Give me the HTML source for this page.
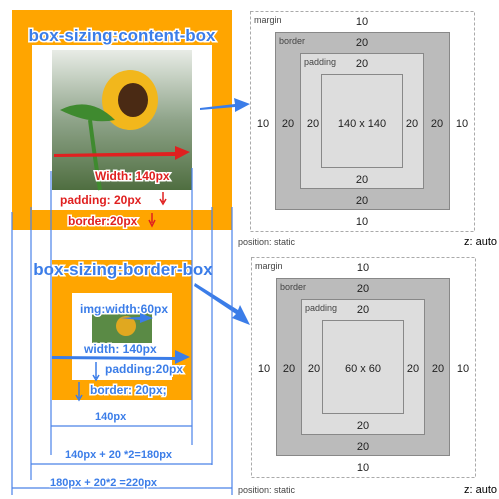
<!DOCTYPE html>
<html><head><style>
body{margin:0;background:#fff;width:499px;height:499px;overflow:hidden}
svg{display:block}
.t{font-family:"Liberation Sans",sans-serif}
.bl{font-family:"Liberation Sans",sans-serif;font-weight:bold;fill:#3b7de8;stroke:#fff;stroke-width:3;paint-order:stroke}
.rd{font-family:"Liberation Sans",sans-serif;font-weight:bold;fill:#e02020;stroke:#fff;stroke-width:3;paint-order:stroke}
</style></head><body>
<svg width="499" height="499" viewBox="0 0 499 499">
<defs>
<linearGradient id="img" x1="0" y1="0" x2="0" y2="1"><stop offset="0" stop-color="#e8ece6"/><stop offset="0.5" stop-color="#8fa48a"/><stop offset="1" stop-color="#4f6e40"/></linearGradient>
</defs>
<!-- top left -->
<rect x="12" y="10" width="220" height="220" fill="#ffa500"/>
<rect x="32" y="45" width="180" height="165" fill="#fff"/>
<rect x="52" y="50" width="140" height="140" fill="url(#img)"/>
<ellipse cx="130" cy="100" rx="28" ry="30" fill="#f2b71c"/>
<ellipse cx="133" cy="100" rx="15" ry="17" fill="#4a2a14"/>
<path d="M60 110 Q90 95 115 120 Q90 125 60 110Z" fill="#3f8a2f"/>
<path d="M90 120 Q95 160 100 190" stroke="#3f8a2f" stroke-width="4" fill="none"/>
<text x="122" y="41" class="bl" font-size="17" text-anchor="middle">box-sizing:content-box</text>
<path d="M54 154 L175 152 L175 146 L190 152 L175 160 L175 156 L54 157Z" fill="#e02020"/>
<text x="95" y="180" class="rd" font-size="12">Width: 140px</text>
<text x="60" y="204" class="rd" font-size="12">padding: 20px</text>
<text x="68" y="225" class="rd" font-size="12">border:20px</text>
<path d="M163 192 V202 M160 199 L163 204 L166 199" stroke="#e02020" stroke-width="1.5" fill="none"/>
<path d="M152 213 V223 M149 220 L152 226 L155 220" stroke="#e02020" stroke-width="1.5" fill="none"/>
<path d="M200 108 L235 104 L234 98 L250 104 L235 112 L235 107 L200 110Z" fill="#3b7de8"/>
<!-- bottom left -->
<rect x="52" y="260" width="140" height="140" fill="#ffa500"/>
<rect x="72" y="293" width="100" height="87" fill="#fff"/>
<rect x="92" y="313" width="60" height="30" fill="#5a8a45"/>
<ellipse cx="126" cy="326" rx="10" ry="10" fill="#e0a820"/>
<text x="123" y="275" class="bl" font-size="17" text-anchor="middle">box-sizing:border-box</text>
<text x="80" y="313" class="bl" font-size="12">img:width:60px</text>
<text x="84" y="353" class="bl" font-size="12">width: 140px</text>
<text x="105" y="373" class="bl" font-size="12">padding:20px</text>
<text x="90" y="394" class="bl" font-size="12">border: 20px;</text>
<path d="M52 356 L175 357 L175 350 L190 357 L175 364 L175 360 L52 359Z" fill="#3b7de8"/>
<path d="M120 318 L140 317 L140 313 L153 318 L140 323 L140 320 Z" fill="#3b7de8"/>
<path d="M96 362 V378 M93 375 L96 380 L99 375" stroke="#3b7de8" stroke-width="1.5" fill="none"/>
<path d="M79 382 V398 M76 395 L79 400 L82 395" stroke="#3b7de8" stroke-width="1.5" fill="none"/>
<path d="M195 283 L238 310 L240 305 L250 325 L232 318 L236 314 L194 286Z" fill="#3b7de8"/>
<!-- blue measurement lines -->
<g stroke="#4a82e8" stroke-width="1.2" fill="none">
<path d="M12 212 V495 M31 207 V480 M51 171 V455 M192 168 V445 M212 207 V465 M232 207 V495"/>
<path d="M51 426 H192 M31 464 H212 M12 488 H232"/>
</g>
<text x="95" y="420" class="bl" font-size="11">140px</text>
<text x="65" y="458" class="bl" font-size="11">140px + 20 *2=180px</text>
<text x="50" y="486" class="bl" font-size="11">180px + 20*2 =220px</text>
<!-- right diagrams -->
<g class="t" font-size="11" text-anchor="middle" fill="#222">
<rect x="250.5" y="11.5" width="224" height="220" fill="#fff" stroke="#aaa" stroke-dasharray="3,2"/>
<rect x="275.5" y="32.5" width="174" height="177" fill="#bbb" stroke="#888"/>
<rect x="300.5" y="53.5" width="123" height="135" fill="#ddd" stroke="#888"/>
<rect x="321.5" y="74.5" width="81" height="93" fill="#ddd" stroke="#888"/>
<text x="362" y="25">10</text><text x="362" y="46">20</text><text x="362" y="67">20</text>
<text x="362" y="127">140 x 140</text>
<text x="362" y="183">20</text><text x="362" y="204">20</text><text x="362" y="225">10</text>
<text x="263" y="127">10</text><text x="288" y="127">20</text><text x="313" y="127">20</text>
<text x="412" y="127">20</text><text x="437" y="127">20</text><text x="462" y="127">10</text>
<g text-anchor="start" font-size="9" fill="#444"><text x="254" y="23">margin</text><text x="279" y="44">border</text><text x="304" y="65">padding</text><text x="238" y="245">position: static</text></g>
<text x="497" y="245" font-size="11" fill="#000" text-anchor="end">z: auto</text>

<rect x="251.5" y="257.5" width="224" height="220" fill="#fff" stroke="#aaa" stroke-dasharray="3,2"/>
<rect x="276.5" y="278.5" width="173" height="177" fill="#bbb" stroke="#888"/>
<rect x="301.5" y="299.5" width="123" height="135" fill="#ddd" stroke="#888"/>
<rect x="322.5" y="320.5" width="81" height="93" fill="#ddd" stroke="#888"/>
<text x="363" y="271">10</text><text x="363" y="292">20</text><text x="363" y="313">20</text>
<text x="363" y="372">60 x 60</text>
<text x="363" y="429">20</text><text x="363" y="450">20</text><text x="363" y="471">10</text>
<text x="264" y="372">10</text><text x="289" y="372">20</text><text x="314" y="372">20</text>
<text x="413" y="372">20</text><text x="438" y="372">20</text><text x="463" y="372">10</text>
<g text-anchor="start" font-size="9" fill="#444"><text x="255" y="269">margin</text><text x="280" y="290">border</text><text x="305" y="311">padding</text><text x="238" y="493">position: static</text></g>
<text x="497" y="493" font-size="11" fill="#000" text-anchor="end">z: auto</text>
</g>
</svg>
</body></html>
